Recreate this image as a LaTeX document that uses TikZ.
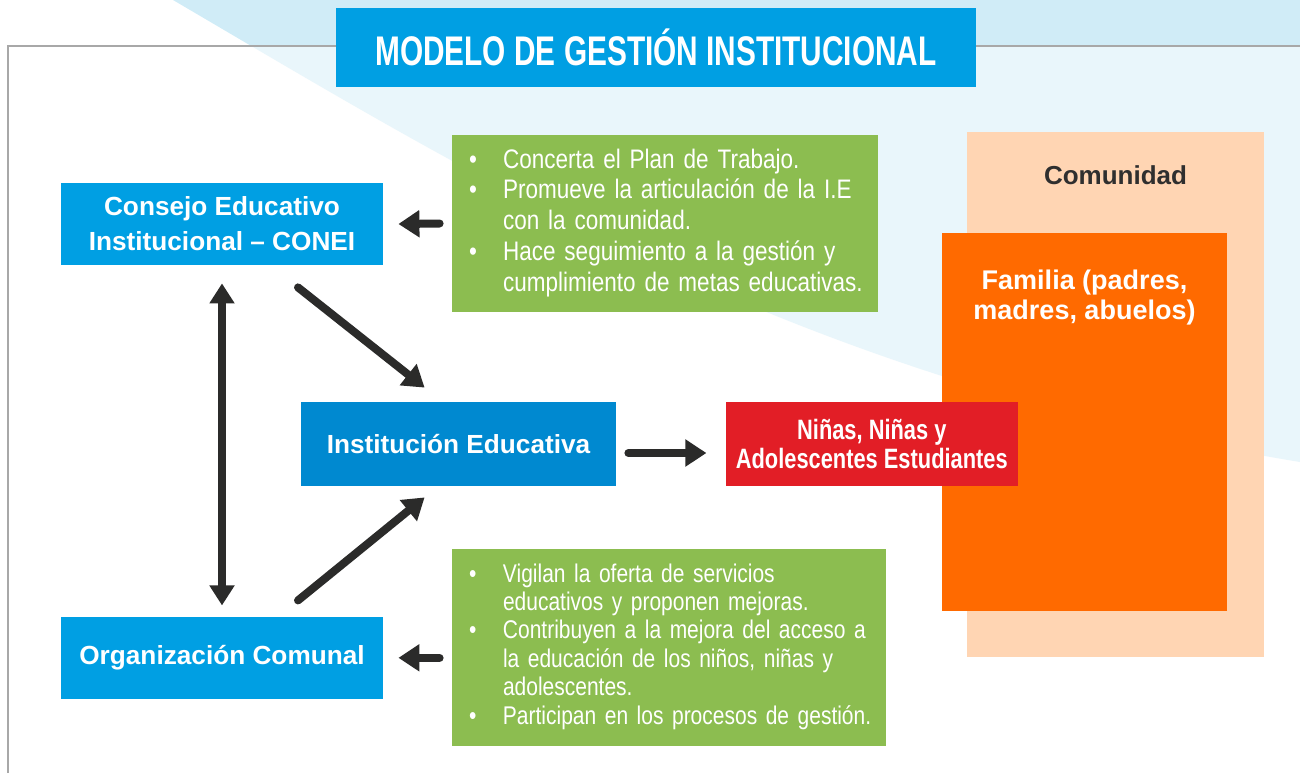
\documentclass[tikz,border=0pt]{standalone}
\usepackage{fontspec}
\setmainfont{Liberation Sans}
\newfontfamily\condfont[FakeStretch=0.84]{Liberation Sans}
\newfontfamily\condfontb[FakeStretch=0.82]{Liberation Sans}
\newfontfamily\titlefont[FakeStretch=0.72]{Liberation Sans}
\newfontfamily\nnafont[FakeStretch=0.78]{Liberation Sans}
\usepackage{tikz}
\usetikzlibrary{arrows.meta,positioning}
\usepackage{xcolor}
\definecolor{mgblue}{RGB}{0,159,227}
\definecolor{mgdarkblue}{RGB}{0,137,208}
\definecolor{mggreen}{RGB}{140,189,80}
\definecolor{mgpeach}{RGB}{255,213,179}
\definecolor{mgorange}{RGB}{255,106,0}
\definecolor{mgred}{RGB}{226,30,38}
\definecolor{mgdark}{RGB}{43,43,42}
\definecolor{mgsky}{RGB}{208,236,247}
\definecolor{mgframe}{RGB}{168,168,168}
\definecolor{mgtext}{RGB}{47,47,47}
\tikzstyle{titlebox} = [rectangle, minimum width=320pt, minimum height=39.5pt, inner sep=0pt, fill=mgblue, text=white, font=\titlefont\bfseries\fontsize{20.7}{24}\selectfont]
\tikzstyle{bluebox} = [rectangle, minimum width=161pt, minimum height=41pt, inner sep=0pt, align=center, fill=mgblue, text=white, font=\bfseries\fontsize{13.1}{17.5}\selectfont]
\tikzstyle{greenbox} = [rectangle, inner xsep=8.5pt, inner ysep=0pt, align=left, fill=mggreen, text=white]
\tikzstyle{arrow} = [line width=4pt, line cap=round, -{Triangle[length=10.5pt,width=13pt]}, color=mgdark]
\tikzstyle{twoway} = [line width=4pt, {Triangle[length=10pt,width=12pt]}-{Triangle[length=10pt,width=12pt]}, color=mgdark]

\begin{document}
\begin{tikzpicture}[x=0.5pt,y=-0.5pt]
\useasboundingbox (0,0) rectangle (1300,773);
% Fondo y marco
\fill[mgsky] (173,0) .. controls (480,180) and (800,380) .. (1300,462) -- (1300,0) -- cycle;
\fill[white, opacity=0.55] (8,46) rectangle (1300,773);
\draw[mgframe, line width=1pt] (8,773) -- (8,46) -- (1300,46);

% Titulo
\node (titulo) [titlebox] at (656,47.5) {MODELO DE GESTIÓN INSTITUCIONAL};

% Actores
\node (conei) [bluebox] at (222,224) {Consejo Educativo\\Institucional – CONEI};
\node (orgcom) [bluebox, below=175.5pt of conei] {Organización Comunal};
\node (ie) [bluebox, fill=mgdarkblue, minimum width=157.5pt, minimum height=42pt] at (458.5,444) {Institución Educativa};

% Comunidad y familia
\node (comunidad) [rectangle, fill=mgpeach, minimum width=148.5pt, minimum height=262.5pt,
  label={[anchor=north, yshift=-17pt, inner sep=0pt, text=mgtext, font=\bfseries\fontsize{13}{15}\selectfont]north:Comunidad}] at (1115.5,394.5) {};
\node (familia) [rectangle, fill=mgorange, minimum width=142.5pt, minimum height=189pt,
  label={[anchor=north, yshift=-18.5pt, inner sep=0pt, align=center, text=white, font=\bfseries\fontsize{13.5}{15}\selectfont]north:Familia (padres,\\madres, abuelos)}] at (1084.5,422) {};
\node (nna) [bluebox, fill=mgred, minimum width=146pt, minimum height=42pt, font=\nnafont\bfseries\fontsize{14}{14.5}\selectfont, right=54.5pt of ie] {Niñas, Niñas y\\Adolescentes Estudiantes};

% Funciones
\node (funconei) [greenbox, minimum height=88.5pt, text width=196pt, font=\condfont\fontsize{13.4}{15.4}\selectfont] at (665,223.5) {%
\begin{tabular}{@{}p{17pt}@{}l@{}}
\textbullet & Concerta el Plan de Trabajo.\\
\textbullet & Promueve la articulación de la I.E\\
 & con la comunidad.\\
\textbullet & Hace seguimiento a la gestión y\\
 & cumplimiento de metas educativas.
\end{tabular}};
\node (funorg) [greenbox, minimum height=98.5pt, text width=200pt, font=\condfontb\fontsize{12.8}{14.2}\selectfont] at (669,647.5) {%
\begin{tabular}{@{}p{17pt}@{}l@{}}
\textbullet & Vigilan la oferta de servicios\\
 & educativos y proponen mejoras.\\
\textbullet & Contribuyen a la mejora del acceso a\\
 & la educación de los niños, niñas y\\
 & adolescentes.\\
\textbullet & Participan en los procesos de gestión.
\end{tabular}};

% Flechas
\draw[arrow] ([xshift=-6pt]funconei.west) -- ([xshift=7.5pt]conei.east);
\draw[arrow] ([xshift=-6pt]funorg.west |- orgcom.east) -- ([xshift=7.5pt]orgcom.east);
\draw[twoway] ([yshift=-9pt]conei.south) -- ([yshift=5.5pt]orgcom.north);
\draw[arrow] ([xshift=38pt,yshift=-11pt]conei.south) -- ([xshift=62pt,yshift=7pt]ie.north west);
\draw[arrow] ([xshift=38pt,yshift=8pt]orgcom.north) -- ([xshift=62pt,yshift=-5.5pt]ie.south west);
\draw[arrow] ([xshift=6pt,yshift=-4.5pt]ie.east) -- ([xshift=-9.5pt,yshift=-4.5pt]nna.west);
\end{tikzpicture}
\end{document}
